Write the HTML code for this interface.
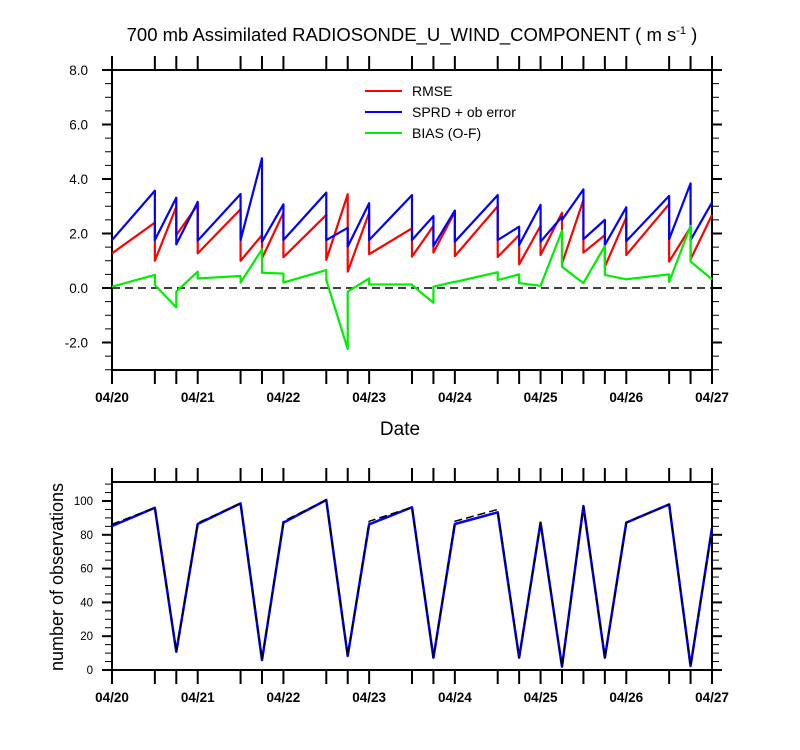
<!DOCTYPE html>
<html><head><meta charset="utf-8">
<style>
html,body{margin:0;padding:0;background:#fff;}
svg{display:block;font-family:"Liberation Sans",sans-serif;}
</style></head>
<body>
<svg id="chart" width="800" height="750" viewBox="0 0 800 750">
<text x="412" y="41" font-size="18.5" text-anchor="middle">700 mb Assimilated RADIOSONDE_U_WIND_COMPONENT ( m s<tspan dy="-7" font-size="11">-1</tspan><tspan dy="7"> )</tspan></text>
<text x="400" y="435" font-size="19" text-anchor="middle">Date</text>
<text transform="translate(63,577) rotate(-90)" font-size="18" text-anchor="middle">number of observations</text>
<g id="top"></g>
<g id="bot"></g>
<g>
 <g><line x1="365" y1="91" x2="402" y2="91" stroke="#ff0000" stroke-width="2"/><text x="412" y="96" font-size="14">RMSE</text></g>
 <g><line x1="365" y1="112" x2="402" y2="112" stroke="#0000ff" stroke-width="2"/><text x="412" y="117" font-size="14">SPRD + ob error</text></g>
 <g><line x1="365" y1="133" x2="402" y2="133" stroke="#00ee00" stroke-width="2"/><text x="412" y="138" font-size="14">BIAS (O-F)</text></g>
</g>
</svg>
<script>
const cycleHours = [0,12,18,24,36,42,48,60,66,72,84,90,96,108,114,120,126,132,138,144,156,162,168];
const dayLabels = ["04/20","04/21","04/22","04/23","04/24","04/25","04/26","04/27"];
const topTicks = ["-2.0","0.0","2.0","4.0","6.0","8.0"];
const rmseRise = [1.27,2.4,2.98,3.05,2.89,1.94,2.76,2.68,3.44,2.76,2.19,2.28,2.8,3.0,1.94,2.28,2.76,3.23,1.94,2.59,3.08,2.23,2.68];
const rmseDrop = [1.27,1.0,1.94,1.27,1.0,1.09,1.13,1.03,0.6,1.24,1.15,1.3,1.17,1.14,0.87,1.21,0.9,1.3,0.78,1.21,0.97,1.05,2.68];
const sprdRise = [1.76,3.57,3.31,3.16,3.45,4.76,3.07,3.5,2.21,3.11,3.41,2.64,2.84,3.41,2.25,3.05,2.62,3.62,2.5,2.96,3.38,3.84,3.14];
const sprdDrop = [1.76,1.76,1.6,1.74,1.76,1.7,1.76,1.76,1.52,1.76,1.76,1.54,1.7,1.76,1.58,1.7,2.5,1.79,1.58,1.72,1.79,1.76,3.14];
const biasRise = [0.05,0.48,-0.71,0.6,0.44,1.42,0.53,0.66,-2.24,0.35,0.13,-0.54,0.23,0.58,0.5,0.08,2.1,0.18,1.54,0.32,0.5,2.28,0.32];
const biasDrop = [0.05,0.11,-0.13,0.35,0.2,0.56,0.2,0.29,-0.13,0.13,0.11,0.05,0.22,0.29,0.18,0.08,0.78,0.18,0.48,0.32,0.22,0.97,0.32];
const obsAssim = [85.2,96,10.8,86.4,98.6,5.9,87.2,100.6,8.3,86.2,96.3,7.3,86.4,93.3,7.3,87.2,2,97,7.3,87.2,98,2.4,84];
const obsTotal = [86.2,96,10.8,87,98.6,5.9,88,100.6,8.3,88,96.3,7.3,88,95,7.3,87.2,2,97,7.3,87.2,98,2.4,84];
const countTicks = ["0","20","40","60","80","100"];

const NS="http://www.w3.org/2000/svg";
const X0=112,X1=712;
const xs=h=>X0+(X1-X0)*h/168;
const yTop=v=>288-(v)*27.25;
const yBot=v=>670-v*1.69;
function el(tag,attrs,parent){const e=document.createElementNS(NS,tag);for(const k in attrs)e.setAttribute(k,attrs[k]);parent.appendChild(e);return e;}
function frame(g,top,bottom){
  const r=el('rect',{x:X0,y:top,width:X1-X0,height:bottom-top,fill:'none',stroke:'#000','stroke-width':2},g);
  
  
  cycleHours.forEach(h=>{
    el('line',{x1:xs(h),y1:top,x2:xs(h),y2:top-14,stroke:'#000','stroke-width':2},g);
    el('line',{x1:xs(h),y1:bottom,x2:xs(h),y2:bottom+14,stroke:'#000','stroke-width':2},g);
  });
  dayLabels.forEach((d,i)=>{
    const t=el('text',{x:xs(i*24),y:bottom+32,'font-size':13.5,'font-weight':'bold','text-anchor':'middle'},g);
    t.textContent=d;
    
    
  });
}
function path(g,ys,rise,drop,color,name,dash,w){
  let d='';
  cycleHours.forEach((h,i)=>{
    d+=(i?'L':'M')+xs(h)+','+ys(rise[i]);
    if(drop[i]!==rise[i]) d+='L'+xs(h)+','+ys(drop[i]);
  });
  const p=el('path',{d:d,fill:'none',stroke:color,'stroke-width':w||2.2,'stroke-linejoin':'round'},g);
  if(dash)p.setAttribute('stroke-dasharray',dash);
  
  
}
const gt=document.getElementById('top');
frame(gt,70,370);
for(let v=-3;v<=8.001;v+=0.5){
  const major=Math.abs(v/2-Math.round(v/2))<1e-6;
  const len=major?10:7;
  el('line',{x1:X0,y1:yTop(v),x2:X0-len,y2:yTop(v),stroke:'#000','stroke-width':major?2:1},gt);
  el('line',{x1:X1,y1:yTop(v),x2:X1+len,y2:yTop(v),stroke:'#000','stroke-width':major?2:1},gt);
}
topTicks.forEach(s=>{
  const t=el('text',{x:88,y:yTop(parseFloat(s))+5,'font-size':13.5,'text-anchor':'end'},gt);
  t.textContent=s;
  
  
});
const zl=el('line',{x1:X0,y1:yTop(0),x2:X1,y2:yTop(0),stroke:'#000','stroke-width':1.5,'stroke-dasharray':'8,5'},gt);


path(gt,yTop,rmseRise,rmseDrop,'#ff0000','rmse-line');
path(gt,yTop,sprdRise,sprdDrop,'#0000ff','sprd-line');
path(gt,yTop,biasRise,biasDrop,'#00ee00','bias-line');
const gb=document.getElementById('bot');
frame(gb,482,670);
for(let v=0;v<=110;v+=5){
  const major=v%20===0;const len=major?10:7;
  el('line',{x1:X0,y1:yBot(v),x2:X0-len,y2:yBot(v),stroke:'#000','stroke-width':major?2:1},gb);
  el('line',{x1:X1,y1:yBot(v),x2:X1+len,y2:yBot(v),stroke:'#000','stroke-width':major?2:1},gb);
}
countTicks.forEach(s=>{
  const t=el('text',{x:93,y:yBot(parseFloat(s))+4,'font-size':11.5,'text-anchor':'end'},gb);
  t.textContent=s;
  
  
});
path(gb,yBot,obsAssim,obsAssim,'#0000ff','obs-assimilated-line',null,2.5);
path(gb,yBot,obsTotal,obsTotal,'#000','obs-total-line','8,4',1.5);
</script>
</body></html>
